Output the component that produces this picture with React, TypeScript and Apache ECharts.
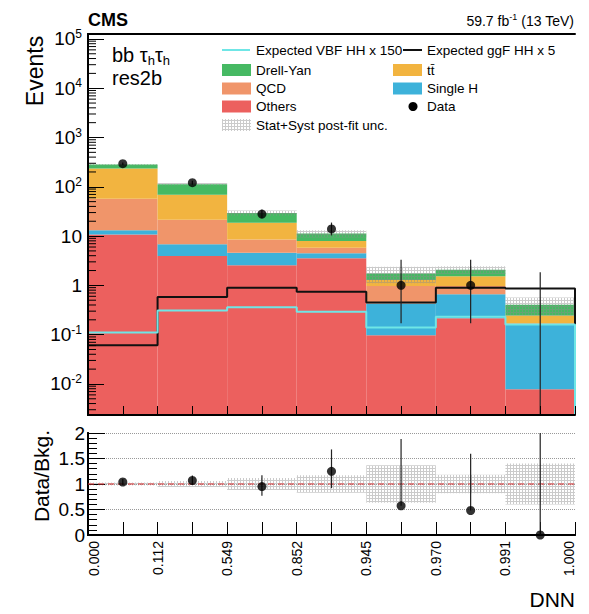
import React, { useEffect, useRef } from "react";
import * as echarts from "echarts";

const FONT = "'Liberation Sans', Arial, Helvetica, sans-serif";

// DNN bin edges; the 7 bins are drawn with equal width
const binEdgeLabels = ["0.000", "0.112", "0.549", "0.852", "0.945", "0.970", "0.991", "1.000"];

// Post-fit background yields per bin (stacked bottom to top)
const others = [10.8, 3.93, 2.55, 3.53, 0.097, 0.215, 0.0078];
const singleH = [2.3, 2.86, 2.05, 0.93, 0.333, 0.445, 0.154];
const qcd = [44.3, 14.7, 3.97, 1.36, 0.54, 0.31, 0.008];
const ttbar = [178.6, 47.7, 10.1, 2.1, 0.31, 0.57, 0.076];
const drellYan = [47, 44, 10.8, 3.3, 0.47, 0.54, 0.16];

// Relative stat+syst post-fit uncertainty on the total background
const uncRel = [0.03, 0.06, 0.12, 0.17, 0.37, 0.18, 0.4];

// Signal expectations (scaled)
const vbfHHx150 = [0.11, 0.31, 0.36, 0.29, 0.14, 0.23, 0.16];
const ggfHHx5 = [0.061, 0.58, 0.9, 0.745, 0.45, 0.9, 0.86];

// Observed data with asymmetric Poisson errors
const dataCounts = [294, 121, 28, 14, 1, 1, 0];
const dataErrUp = [17.7, 11.5, 6.3, 4.8, 2.3, 2.3, 1.84];
const dataErrDown = [16.7, 10.5, 5.3, 3.7, 0.83, 0.83, 0];

// Errors on data / background
const ratioErrUp = [0.06, 0.1, 0.22, 0.43, 1.31, 1.11, 4.5];
const ratioErrDown = [0.06, 0.09, 0.18, 0.33, 0, 0, 0];

const YMIN = Math.pow(10, -2.63);
const YMAX = Math.pow(10, 5.1);
const NBINS = binEdgeLabels.length - 1;

const COLORS = {
  drellYan: "#46b963",
  ttbar: "#f2b440",
  qcd: "#f0956a",
  singleH: "#3db2da",
  others: "#ec605e",
  vbf: "#6fe6e6",
  ggf: "#111111",
};

function makeHatch(): HTMLCanvasElement {
  const c = document.createElement("canvas");
  c.width = 3;
  c.height = 3;
  const ctx = c.getContext("2d")!;
  ctx.fillStyle = "rgba(140,140,140,0.45)";
  ctx.fillRect(0, 0, 3, 1);
  ctx.fillRect(0, 1, 1, 2);
  return c;
}

function rectRender(fill: any) {
  return (params: any, api: any) => {
    const i = api.value(0) as number;
    const a = api.coord([i, api.value(2)]);
    const b = api.coord([i + 1, api.value(1)]);
    return {
      type: "rect",
      shape: { x: a[0], y: a[1], width: b[0] - a[0], height: b[1] - a[1] },
      style: { fill },
    };
  };
}

function errorRender(params: any, api: any) {
  const x = api.value(0) as number;
  const a = api.coord([x, api.value(1)]);
  const b = api.coord([x, api.value(2)]);
  return {
    type: "line",
    shape: { x1: a[0], y1: a[1], x2: b[0], y2: b[1] },
    style: { stroke: "#222", lineWidth: 1.2 },
  };
}

function histLine(v: number[]) {
  return [[0, YMIN], ...v.map((y, i) => [i, y]), [NBINS, v[NBINS - 1]], [NBINS, YMIN]];
}

function buildOption() {
  const hatch = { image: makeHatch(), repeat: "repeat" };

  const processes = [
    { name: "Others", values: others, color: COLORS.others },
    { name: "Single H", values: singleH, color: COLORS.singleH },
    { name: "QCD", values: qcd, color: COLORS.qcd },
    { name: "tt̄", values: ttbar, color: COLORS.ttbar },
    { name: "Drell-Yan", values: drellYan, color: COLORS.drellYan },
  ];

  const cum = new Array(NBINS).fill(0);
  const stackSeries = processes.map((p) => {
    const data = p.values.map((v, i) => {
      const lo = cum[i] > 0 ? cum[i] : YMIN;
      cum[i] += v;
      return [i, lo, cum[i]];
    });
    return {
      type: "custom",
      name: p.name,
      xAxisIndex: 0,
      yAxisIndex: 0,
      clip: true,
      silent: true,
      encode: { x: 0, y: [1, 2] },
      data,
      renderItem: rectRender(p.color),
      z: 2,
    };
  });
  const total = cum.slice();
  const ratio = dataCounts.map((d, i) => d / total[i]);

  // minor log ticks at 2..9 x 10^k
  const minorTicks: number[][] = [];
  for (let k = -3; k <= 5; k++) {
    for (let m = 2; m <= 9; m++) {
      const v = m * Math.pow(10, k);
      if (v > YMIN && v < YMAX) minorTicks.push([0, v]);
    }
  }

  const logLabel = (v: number) => {
    const l = Math.log10(v);
    const e = Math.round(l);
    if (Math.abs(l - e) > 1e-6) return "";
    if (e === 0) return "{b|1}";
    if (e === 1) return "{b|10}";
    return "{b|10}{s|" + e + "}";
  };

  const axisLineStyle = { show: true, lineStyle: { color: "#000", width: 2 } };

  const legendRows = [50, 70, 88.5, 106.5, 125];
  const c1 = 222;
  const c2 = 393;
  const boxW = 29;
  const boxH = 12;
  const legendText = (x: number, y: number, text: string) => ({
    type: "text",
    x,
    y,
    silent: true,
    style: { text, fontFamily: FONT, fontSize: 13.5, fill: "#000", align: "left", verticalAlign: "middle" },
  });
  const legendBox = (x: number, y: number, fill: any) => ({
    type: "rect",
    silent: true,
    shape: { x, y: y - boxH / 2, width: boxW, height: boxH },
    style: { fill },
  });

  return {
    animation: false,
    backgroundColor: "#fff",
    grid: [
      { left: 88, top: 34, width: 487, height: 381 },
      { left: 88, top: 433, width: 487, height: 102 },
    ],
    xAxis: [
      {
        gridIndex: 0,
        type: "value",
        min: 0,
        max: NBINS,
        interval: 0.5,
        z: 10,
        axisLine: axisLineStyle,
        axisTick: { show: true, inside: true, length: 9, lineStyle: { color: "#000", width: 1 } },
        axisLabel: { show: false },
        splitLine: { show: false },
      },
      {
        gridIndex: 0,
        type: "value",
        position: "top",
        min: 0,
        max: NBINS,
        z: 10,
        axisLine: axisLineStyle,
        axisTick: { show: false },
        axisLabel: { show: false },
        splitLine: { show: false },
      },
      {
        gridIndex: 1,
        type: "value",
        min: 0,
        max: NBINS,
        interval: 0.5,
        z: 10,
        axisLine: axisLineStyle,
        axisTick: { show: true, inside: true, length: 13, lineStyle: { color: "#000", width: 1 } },
        axisLabel: {
          show: true,
          rotate: 90,
          margin: 6,
          fontSize: 14,
          fontFamily: FONT,
          color: "#000",
          formatter: (v: number) => {
            if (!Number.isInteger(v)) return "";
            const t = binEdgeLabels[v];
            if (v === 0) return "{first|" + t + "}";
            if (v === NBINS) return "{last|" + t + "}";
            return "{m|" + t + "}";
          },
          rich: {
            m: { fontSize: 14, fontFamily: FONT, color: "#000" },
            first: { fontSize: 14, fontFamily: FONT, color: "#000", padding: [12, 0, 0, 0] },
            last: { fontSize: 14, fontFamily: FONT, color: "#000", padding: [0, 0, 12, 0] },
          },
        },
        splitLine: { show: false },
      },
      {
        gridIndex: 1,
        type: "value",
        position: "top",
        min: 0,
        max: NBINS,
        z: 10,
        axisLine: axisLineStyle,
        axisTick: { show: false },
        axisLabel: { show: false },
        splitLine: { show: false },
      },
    ],
    yAxis: [
      {
        gridIndex: 0,
        type: "log",
        logBase: 10,
        min: YMIN,
        max: YMAX,
        z: 10,
        axisLine: axisLineStyle,
        axisTick: { show: true, inside: true, length: 16, lineStyle: { color: "#000", width: 1 } },
        axisLabel: {
          show: true,
          margin: 6,
          fontFamily: FONT,
          fontSize: 19,
          color: "#000",
          formatter: logLabel,
          rich: {
            b: { fontSize: 19, fontFamily: FONT, color: "#000", lineHeight: 22 },
            s: { fontSize: 12, fontFamily: FONT, color: "#000", verticalAlign: "top", lineHeight: 12 },
          },
        },
        splitLine: { show: false },
      },
      {
        gridIndex: 0,
        type: "log",
        logBase: 10,
        position: "right",
        min: YMIN,
        max: YMAX,
        z: 10,
        axisLine: axisLineStyle,
        axisTick: { show: false },
        axisLabel: { show: false },
        splitLine: { show: false },
      },
      {
        gridIndex: 1,
        type: "value",
        min: 0,
        max: 2,
        interval: 0.5,
        z: 10,
        axisLine: axisLineStyle,
        axisTick: { show: true, inside: true, length: 17, lineStyle: { color: "#000", width: 1 } },
        minorTick: { show: true, splitNumber: 5, length: 9, lineStyle: { color: "#000", width: 1 } },
        axisLabel: { show: true, margin: 3, fontFamily: FONT, fontSize: 19, color: "#000" },
        splitLine: { show: true, lineStyle: { color: "#999", type: "dotted", width: 1 } },
      },
      {
        gridIndex: 1,
        type: "value",
        position: "right",
        min: 0,
        max: 2,
        z: 10,
        axisLine: axisLineStyle,
        axisTick: { show: false },
        axisLabel: { show: false },
        splitLine: { show: false },
      },
    ],
    series: [
      ...stackSeries,
      {
        type: "custom",
        name: "Stat+Syst post-fit unc.",
        xAxisIndex: 0,
        yAxisIndex: 0,
        clip: true,
        silent: true,
        encode: { x: 0, y: [1, 2] },
        data: total.map((t, i) => [i, t * (1 - uncRel[i]), t * (1 + uncRel[i])]),
        renderItem: rectRender(hatch),
        z: 3,
      },
      {
        type: "line",
        name: "Expected ggF HH x 5",
        xAxisIndex: 0,
        yAxisIndex: 0,
        step: "end",
        symbol: "none",
        data: histLine(ggfHHx5),
        lineStyle: { color: COLORS.ggf, width: 2 },
        z: 4,
      },
      {
        type: "line",
        name: "Expected VBF HH x 150",
        xAxisIndex: 0,
        yAxisIndex: 0,
        step: "end",
        symbol: "none",
        data: histLine(vbfHHx150),
        lineStyle: { color: COLORS.vbf, width: 2 },
        z: 5,
      },
      {
        type: "custom",
        name: "Data errors",
        xAxisIndex: 0,
        yAxisIndex: 0,
        clip: true,
        silent: true,
        encode: { x: 0, y: [1, 2] },
        data: dataCounts.map((d, i) => [i + 0.5, Math.max(d - dataErrDown[i], YMIN), d + dataErrUp[i]]),
        renderItem: errorRender,
        z: 6,
      },
      {
        type: "scatter",
        name: "Data",
        xAxisIndex: 0,
        yAxisIndex: 0,
        symbol: "circle",
        symbolSize: 9,
        itemStyle: { color: "#000" },
        data: dataCounts.map((d, i) => (d > 0 ? [i + 0.5, d] : [i + 0.5, "-"])),
        z: 7,
      },
      {
        type: "custom",
        name: "minor ticks",
        xAxisIndex: 0,
        yAxisIndex: 0,
        silent: true,
        data: minorTicks,
        renderItem: (params: any, api: any) => {
          const p = api.coord([0, api.value(1)]);
          return {
            type: "line",
            shape: { x1: p[0], y1: p[1], x2: p[0] + 8, y2: p[1] },
            style: { stroke: "#000", lineWidth: 1 },
          };
        },
        z: 11,
      },
      // ratio panel
      {
        type: "custom",
        name: "Ratio unc.",
        xAxisIndex: 2,
        yAxisIndex: 2,
        clip: true,
        silent: true,
        encode: { x: 0, y: [1, 2] },
        data: uncRel.map((u, i) => [i, 1 - u, 1 + u]),
        renderItem: rectRender(hatch),
        z: 2,
      },
      {
        type: "line",
        name: "Unity",
        xAxisIndex: 2,
        yAxisIndex: 2,
        symbol: "none",
        data: [
          [0, 1],
          [NBINS, 1],
        ],
        lineStyle: { color: "#e8383a", width: 1.2, type: [6, 4] },
        z: 12,
      },
      {
        type: "custom",
        name: "Ratio errors",
        xAxisIndex: 2,
        yAxisIndex: 2,
        clip: true,
        silent: true,
        encode: { x: 0, y: [1, 2] },
        data: ratio.map((r, i) => [i + 0.5, r - ratioErrDown[i], r + ratioErrUp[i]]),
        renderItem: errorRender,
        z: 13,
      },
      {
        type: "scatter",
        name: "Data/Bkg.",
        xAxisIndex: 2,
        yAxisIndex: 2,
        symbol: "circle",
        symbolSize: 9,
        clip: false,
        itemStyle: { color: "#000" },
        data: ratio.map((r, i) => [i + 0.5, r]),
        z: 14,
      },
    ],
    graphic: [
      {
        type: "text",
        x: 88,
        y: 20,
        silent: true,
        style: { text: "CMS", fontFamily: FONT, fontSize: 18, fontWeight: "bold", fill: "#000", align: "left", verticalAlign: "middle" },
      },
      {
        type: "text",
        x: 574,
        y: 21,
        silent: true,
        style: {
          text: "{a|59.7 fb}{s|-1}{a| (13 TeV)}",
          align: "right",
          verticalAlign: "middle",
          rich: {
            a: { fontFamily: FONT, fontSize: 14, fill: "#000", lineHeight: 18 },
            s: { fontFamily: FONT, fontSize: 9, fill: "#000", verticalAlign: "top", lineHeight: 9 },
          },
        },
      },
      {
        type: "text",
        x: 112,
        y: 54.5,
        silent: true,
        style: {
          text: "{a|bb τ}{h|h}{a|τ}{h|h}",
          align: "left",
          verticalAlign: "middle",
          rich: {
            a: { fontFamily: FONT, fontSize: 20, fill: "#000", lineHeight: 22 },
            h: { fontFamily: FONT, fontSize: 13, fill: "#000", lineHeight: 13, padding: [11, 0, 0, 0] },
          },
        },
      },
      {
        type: "text",
        x: 112,
        y: 77.5,
        silent: true,
        style: { text: "res2b", fontFamily: FONT, fontSize: 20, fill: "#000", align: "left", verticalAlign: "middle" },
      },
      {
        type: "text",
        x: 35,
        y: 71,
        rotation: Math.PI / 2,
        silent: true,
        style: { text: "Events", fontFamily: FONT, fontSize: 23, fill: "#000", align: "center", verticalAlign: "middle" },
      },
      {
        type: "text",
        x: 41,
        y: 476,
        rotation: Math.PI / 2,
        silent: true,
        style: { text: "Data/Bkg.", fontFamily: FONT, fontSize: 21, fill: "#000", align: "center", verticalAlign: "middle" },
      },
      {
        type: "text",
        x: 575,
        y: 599,
        silent: true,
        style: { text: "DNN", fontFamily: FONT, fontSize: 21, fill: "#000", align: "right", verticalAlign: "middle" },
      },
      // legend
      {
        type: "line",
        silent: true,
        shape: { x1: c1, y1: legendRows[0], x2: c1 + boxW - 1, y2: legendRows[0] },
        style: { stroke: COLORS.vbf, lineWidth: 2 },
      },
      legendText(256, legendRows[0], "Expected VBF HH x 150"),
      {
        type: "line",
        silent: true,
        shape: { x1: 403, y1: legendRows[0], x2: c2 + boxW, y2: legendRows[0] },
        style: { stroke: COLORS.ggf, lineWidth: 2 },
      },
      legendText(427, legendRows[0], "Expected ggF HH x 5"),
      legendBox(c1, legendRows[1], COLORS.drellYan),
      legendText(256, legendRows[1], "Drell-Yan"),
      legendBox(c2, legendRows[1], COLORS.ttbar),
      legendText(427, legendRows[1], "tt̄"),
      legendBox(c1, legendRows[2], COLORS.qcd),
      legendText(256, legendRows[2], "QCD"),
      legendBox(c2, legendRows[2], COLORS.singleH),
      legendText(427, legendRows[2], "Single H"),
      legendBox(c1, legendRows[3], COLORS.others),
      legendText(256, legendRows[3], "Others"),
      {
        type: "circle",
        silent: true,
        shape: { cx: c2 + 20, cy: legendRows[3], r: 4.5 },
        style: { fill: "#000" },
      },
      legendText(427, legendRows[3], "Data"),
      legendBox(c1, legendRows[4], hatch),
      legendText(256, legendRows[4], "Stat+Syst post-fit unc."),
    ],
  };
}

export default function App() {
  const ref = useRef<HTMLDivElement>(null);
  useEffect(() => {
    if (!ref.current) return;
    const chart = echarts.init(ref.current, undefined, { renderer: "svg" });
    chart.setOption(buildOption() as any);
    return () => chart.dispose();
  }, []);
  return <div ref={ref} style={{ position: "fixed", left: 0, top: 0, width: 589, height: 614 }} />;
}
